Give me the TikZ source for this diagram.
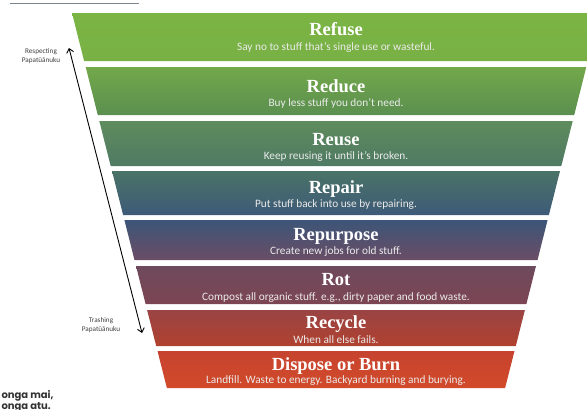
\documentclass[tikz,border=0pt]{standalone}
\usepackage{fontspec}
\setmainfont{Carlito}
\newfontfamily\headfont{Liberation Serif}
\newfontfamily\roundfont{Poppins}
\usetikzlibrary{arrows.meta}

\definecolor{refuseA}{HTML}{7BB544}
\definecolor{refuseB}{HTML}{78B045}
\definecolor{reduceA}{HTML}{72A84A}
\definecolor{reduceB}{HTML}{5B8F50}
\definecolor{reuseA}{HTML}{5F8C5D}
\definecolor{reuseB}{HTML}{4F7A64}
\definecolor{repairA}{HTML}{4A7367}
\definecolor{repairB}{HTML}{3E5A78}
\definecolor{repurpA}{HTML}{3C5578}
\definecolor{repurpB}{HTML}{6A4D65}
\definecolor{rotA}{HTML}{6E4A5D}
\definecolor{rotB}{HTML}{7C4553}
\definecolor{recycA}{HTML}{9A4444}
\definecolor{recycB}{HTML}{B0412F}
\definecolor{dispA}{HTML}{C6432F}
\definecolor{dispB}{HTML}{D24A2A}
\definecolor{ruleline}{HTML}{7A8590}

\tikzset{
  title/.style={text=white, anchor=base,
    font=\headfont\bfseries\fontsize{18.5}{19}\selectfont},
  blurb/.style={text=white!92!black, anchor=base,
    font=\fontsize{11.3}{11.3}\selectfont},
  side/.style={text=black!75, align=center,
    font=\fontsize{7.2}{8.2}\selectfont},
  motto/.style={text=black!80, anchor=base west,
    font=\roundfont\bfseries\fontsize{10}{10}\selectfont},
}

\begin{document}
\begin{tikzpicture}[x=1pt,y=-1pt]
\useasboundingbox (0,0) rectangle (587,410);

% top rule
\draw[ruleline, line width=0.8pt] (10,3) -- (139,3);

% the bands, top to bottom
\shade[top color=refuseA, bottom color=refuseB]
  (72,13) -- (600,13) -- (587.9,61) -- (84.1,61) -- cycle;
\shade[top color=reduceA, bottom color=reduceB]
  (85.7,67) -- (586.3,67) -- (574.2,115) -- (97.8,115) -- cycle;
\shade[top color=reuseA, bottom color=reuseB]
  (99.3,121) -- (572.7,121) -- (561.3,166) -- (110.7,166) -- cycle;
\shade[top color=repairA, bottom color=repairB]
  (112,171) -- (560,171) -- (548.9,215) -- (123.1,215) -- cycle;
\shade[top color=repurpA, bottom color=repurpB]
  (124.4,220) -- (547.6,220) -- (537.5,260) -- (134.5,260) -- cycle;
\shade[top color=rotA, bottom color=rotB]
  (136,266) -- (536,266) -- (526.4,304) -- (145.6,304) -- cycle;
\shade[top color=recycA, bottom color=recycB]
  (147.1,310) -- (524.9,310) -- (515.8,346) -- (156.2,346) -- cycle;
\shade[top color=dispA, bottom color=dispB]
  (157.5,351) -- (514.5,351) -- (505.1,388) -- (166.9,388) -- cycle;

% band texts
\node[title] (refuse) at (336,35) {Refuse};
\node[blurb] (refuseT) at (336,50) {Say no to stuff that’s single use or wasteful.};
\node[title] (reduce) at (336,92) {Reduce};
\node[blurb] (reduceT) at (336,106) {Buy less stuff you don’t need.};
\node[title] (reuse) at (336,145) {Reuse};
\node[blurb] (reuseT) at (336,159) {Keep reusing it until it’s broken.};
\node[title] (repair) at (336,193) {Repair};
\node[blurb] (repairT) at (336,207) {Put stuff back into use by repairing.};
\node[title] (repurpose) at (336,240) {Repurpose};
\node[blurb] (repurposeT) at (336,254) {Create new jobs for old stuff.};
\node[title] (rot) at (336,285) {Rot};
\node[blurb] (rotT) at (336,300) {Compost all organic stuff. e.g., dirty paper and food waste.};
\node[title] (recycle) at (336,328) {Recycle};
\node[blurb] (recycleT) at (336,343) {When all else fails.};
\node[title] (dispose) at (336,370) {Dispose or Burn};
\node[blurb] (disposeT) at (336,383) {Landfill. Waste to energy. Backyard burning and burying.};

% side arrow
\coordinate (up) at (69,48);
\coordinate (down) at (142,333);
\draw[{Straight Barb[length=4pt,width=7pt]}-{Straight Barb[length=4pt,width=7pt]}, line width=0.9pt]
  (up) -- (down);
\node[side] (respect) at (41,56) {Respecting\\Papatūānuku};
\node[side] (trash) at (101,325) {Trashing\\Papatūānuku};

% motto, cut at the left edge
\node[motto] (mottoA) at (-2,398) {onga mai,};
\node[motto] (mottoB) at (-2,409) {onga atu.};
\end{tikzpicture}
\end{document}
